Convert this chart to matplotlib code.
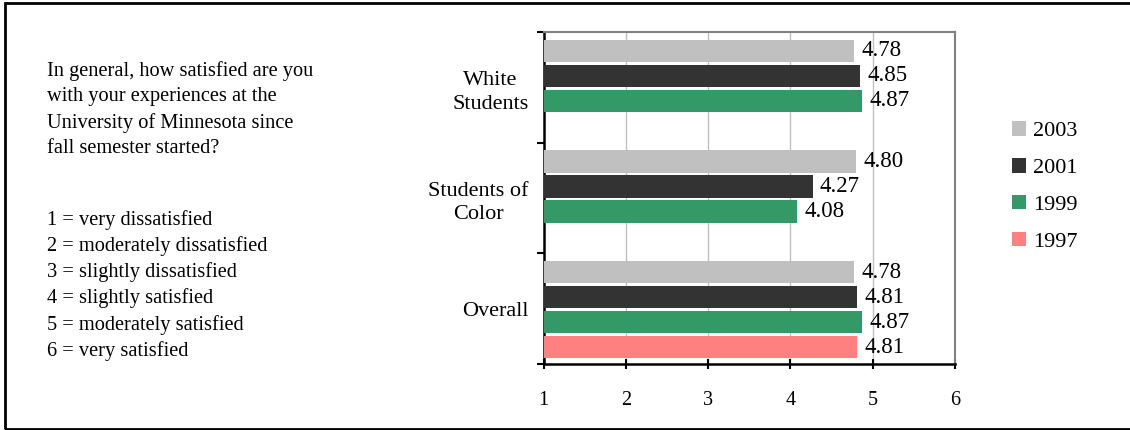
import matplotlib.pyplot as plt
from matplotlib.patches import Rectangle, Patch
import numpy as np

plt.rcParams["font.family"] = ["Liberation Serif", "DejaVu Serif"]

categories = ["White\nStudents", "Students of\nColor", "Overall"]
years = ["2003", "2001", "1999", "1997"]
colors = ["#C0C0C0", "#333333", "#339966", "#FF8080"]
values = {
    "2003": [4.78, 4.80, 4.78],
    "2001": [4.85, 4.27, 4.81],
    "1999": [4.87, 4.08, 4.87],
    "1997": [None, None, 4.81],
}

question = ("In general, how satisfied are you\n"
            "with your experiences at the\n"
            "University of Minnesota since\n"
            "fall semester started?")
scale = ["1 = very dissatisfied",
         "2 = moderately dissatisfied",
         "3 = slightly dissatisfied",
         "4 = slightly satisfied",
         "5 = moderately satisfied",
         "6 = very satisfied"]

fig = plt.figure(figsize=(11.3, 4.3), dpi=100)
fig.patches.append(Rectangle((5 / 1130, 1 / 430), 1.2, 426 / 430, transform=fig.transFigure,
                             fill=False, edgecolor="black", linewidth=2))

ax = fig.add_axes([0.481, 0.1535, 0.364, 0.772])

y = np.arange(len(categories))
slot = 0.226
h = 0.2
for i, yr in enumerate(years):
    off = -0.33 + slot * i
    for j, v in enumerate(values[yr]):
        if v is None:
            continue
        ax.barh(y[j] + off, v - 1, left=1, height=h, color=colors[i], zorder=3)
        ax.text(v + 0.09, y[j] + off, f"{v:.2f}", va="center", ha="left", fontsize=16.5, zorder=4)

ax.set_xlim(1, 6)
ax.set_ylim(2.5, -0.5)
ax.set_xticks([1, 2, 3, 4, 5, 6])
ax.set_xticklabels(["1", "2", "3", "4", "5", "6"], fontsize=14.5)
ax.set_yticks([-0.5, 0.5, 1.5, 2.5])
ax.set_yticklabels([])
ax.set_yticks(y, minor=True)
ax.set_yticklabels(categories, minor=True, fontsize=16, ha="right", multialignment="center")
for lab in ax.get_yticklabels(minor=True):
    lab.set_linespacing(1.35)
ax.tick_params(axis="y", which="minor", length=0, pad=11)
ax.tick_params(axis="y", which="major", length=5, width=1.5, direction="out")
ax.tick_params(axis="x", length=7, width=1.5, direction="inout", pad=16)
ax.xaxis.grid(True, color="#C0C0C0", linewidth=1, zorder=0)
ax.set_axisbelow(True)

for s in ["left", "bottom"]:
    ax.spines[s].set_color("black")
    ax.spines[s].set_linewidth(1.8)
for s in ["top", "right"]:
    ax.spines[s].set_color("#808080")
    ax.spines[s].set_linewidth(1.5)

handles = [Patch(facecolor=c, label=yr) for c, yr in zip(colors, years)]
fig.legend(handles=handles, loc="upper left", bbox_to_anchor=(1003 / 1130, 1 - 112 / 430),
           frameon=False, fontsize=16, handlelength=0.65, handleheight=0.65, handletextpad=0.3,
           labelspacing=0.75, borderaxespad=0)

fig.text(47 / 1130, 1 - 61 / 430, question, fontsize=14.7, va="top", ha="left", linespacing=1.44)
fig.text(47 / 1130, 1 - 210 / 430, "\n".join(scale), fontsize=14.7, va="top", ha="left",
         linespacing=1.42)

fig.savefig("out.png", dpi=100)
